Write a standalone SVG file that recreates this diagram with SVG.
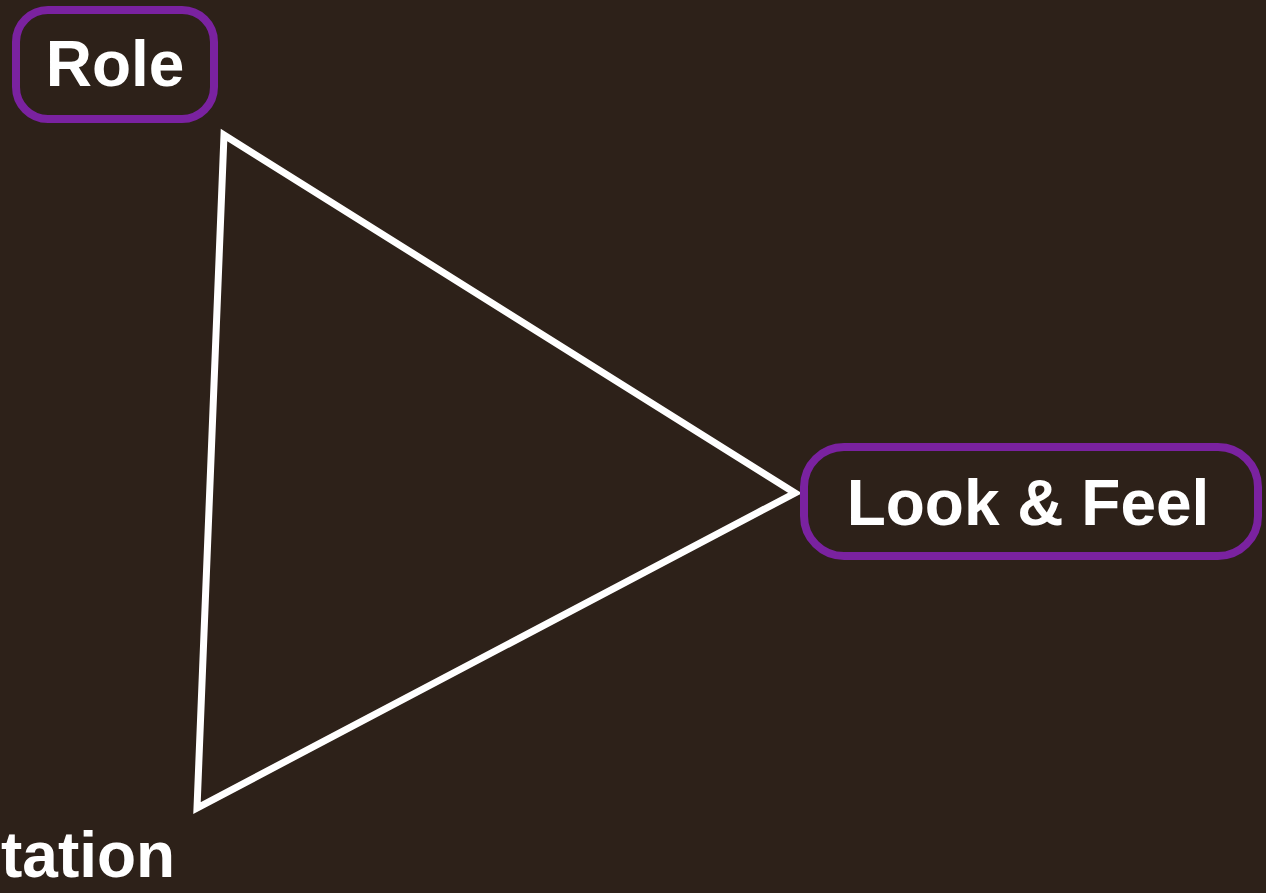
<svg xmlns="http://www.w3.org/2000/svg" width="1266" height="893" viewBox="0 0 1266 893">
<style>
.box{fill:#2d2119;stroke:#7a22a0;stroke-width:8}
.lbl{font-family:"Liberation Sans",Arial,sans-serif;font-weight:bold;font-size:64px;fill:#ffffff}
.edge{fill:none;stroke:#ffffff;stroke-width:7;stroke-linejoin:miter}
</style>
<rect width="1266" height="893" fill="#2d2119"/>
<g id="connectors">
<polygon class="edge" points="224,135 795,493 197,808"/>
</g>
<g id="role">
<rect class="box" x="16" y="10" width="198" height="109" rx="32"/>
<text class="lbl" x="115" y="86" text-anchor="middle">Role</text>
</g>
<g id="lookfeel">
<rect class="box" x="804" y="447" width="454" height="109" rx="40"/>
<text class="lbl" x="1028" y="525" text-anchor="middle">Look &amp; Feel</text>
</g>
<g id="implementation">
<text class="lbl" x="1" y="877" font-size="62">tation</text>
</g>
</svg>
